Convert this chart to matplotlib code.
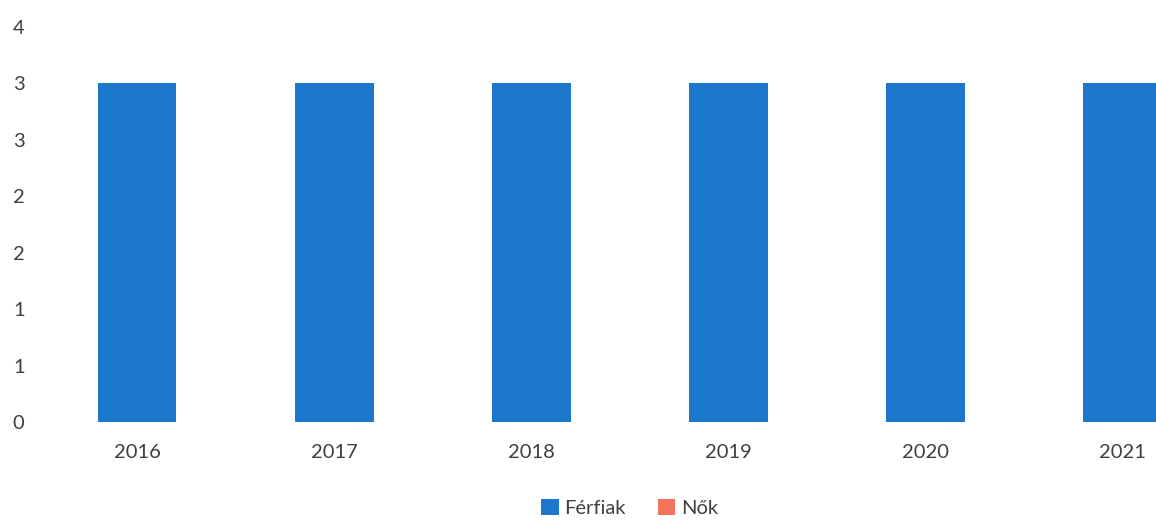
import numpy as np
import matplotlib.pyplot as plt
from matplotlib.ticker import FuncFormatter

# adatok
years = ['2016', '2017', '2018', '2019', '2020', '2021']
ferfiak = [3, 3, 3, 3, 3, 3]
nok = [0, 0, 0, 0, 0, 0]
yticks = [0, 0.5, 1, 1.5, 2, 2.5, 3, 3.5]

plt.rcParams['font.family'] = ['Lato', 'DejaVu Sans']

fig = plt.figure(figsize=(11.56, 5.2), dpi=100)
ax = fig.add_axes([38.5/1156, 98/520, 1 - 38.5/1156, (422-27)/520])

x = np.arange(len(years))
ax.bar(x, ferfiak, width=0.4, color='#1b78cc', label='Férfiak')
ax.bar(x, nok, width=0.4, bottom=ferfiak, color='#f2745a', label='Nők')

ax.set_xlim(-0.5, 5.17)
ax.set_ylim(0, 3.5)
ax.set_xticks(x)
ax.set_xticklabels(years)
ax.set_yticks(yticks)
# Excel-szerű kerekítés (0,5 -> 1)
ax.yaxis.set_major_formatter(FuncFormatter(lambda v, p: '%d' % int(np.floor(v + 0.5))))

for s in ax.spines.values():
    s.set_visible(False)
ax.tick_params(axis='both', length=0, labelsize=14.5, colors='#404040')
ax.tick_params(axis='x', pad=16)
ax.tick_params(axis='y', pad=10)

leg = fig.legend(loc='center', bbox_to_anchor=(630/1156, 1 - 508/520), ncol=2,
                 frameon=False, fontsize=14.5, handlelength=0.85, handleheight=0.85,
                 columnspacing=1.6, handletextpad=0.3)
for t in leg.get_texts():
    t.set_color('#404040')

fig.savefig('out.png', dpi=100)
